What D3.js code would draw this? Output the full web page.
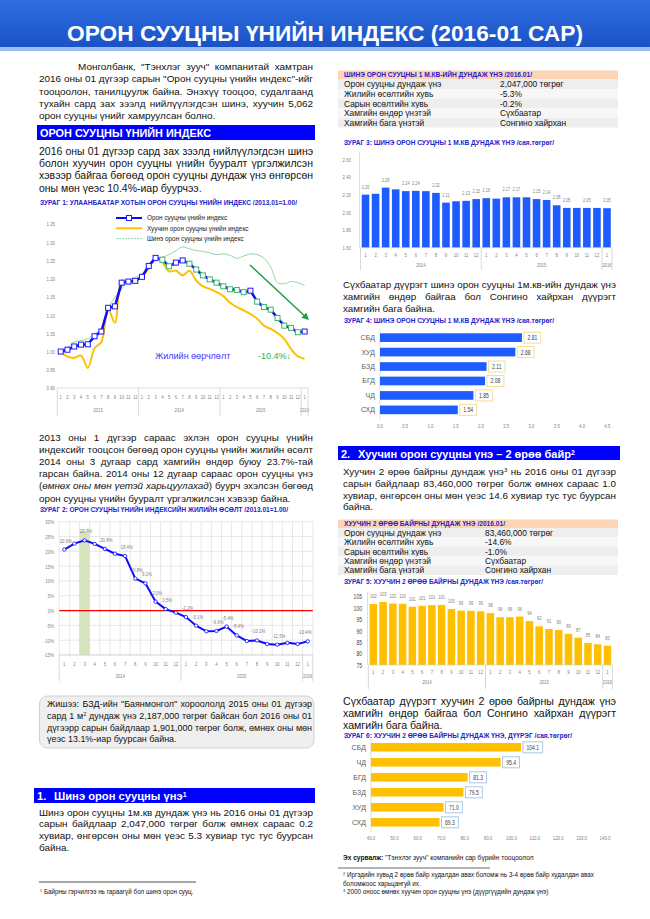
<!DOCTYPE html>
<html><head><meta charset="utf-8">
<script src="https://cdn.jsdelivr.net/npm/d3@7"></script>
<style>body{margin:0;background:#fff}svg{display:block}</style>
</head><body>
<svg id="page" width="650" height="919"></svg>
<script>
// ---------------- DATA ----------------
const monthLabels = ["1","2","3","4","5","6","7","8","9","10","11","12"];
const years1 = ["2013","2014","2015","2016"];
const years2 = ["2014","2015","2016"];

const seriesNames1 = ["Орон сууцны үнийн индекс","Хуучин орон сууцны үнийн индекс","Шинэ орон сууцны үнийн индекс"];
const indexTotal = [1.000,1.005,1.014,1.019,1.020,1.042,1.055,1.120,1.124,1.189,1.192,1.194,1.205,1.235,1.257,1.252,1.234,1.244,1.250,1.241,1.225,1.209,1.198,1.189,1.179,1.171,1.169,1.163,1.167,1.137,1.122,1.115,1.092,1.071,1.065,1.053,1.055];
const indexOld   = [1.000,0.986,0.983,0.989,0.955,1.009,1.026,1.117,1.079,1.195,1.189,1.192,1.206,1.227,1.257,1.245,1.220,1.222,1.209,1.222,1.195,1.179,1.172,1.163,1.152,1.134,1.122,1.113,1.103,1.090,1.071,1.062,1.051,1.035,1.007,0.987,0.980];
const indexNew   = [1.003,1.012,1.026,1.030,1.035,1.049,1.062,1.117,1.149,1.172,1.195,1.204,1.213,1.241,1.256,1.259,1.266,1.277,1.287,1.282,1.277,1.275,1.271,1.266,1.268,1.264,1.256,1.262,1.268,1.266,1.256,1.232,1.189,1.186,1.192,1.189,1.181];
const ticks1 = [0.90,0.95,1.00,1.05,1.10,1.15,1.20,1.25,1.30,1.35];

const yoyGrowth = [20.6,22.6,23.7,22.5,20.8,19.2,18.4,10.8,9.2,3.0,0.5,-0.7,-2.2,-5.1,-7.0,-6.9,-5.4,-8.4,-10.3,-10.1,-11.3,-11.5,-10.9,-11.3,-10.4];
const yoyLabelled = [0,2,4,6,7,8,9,10,12,13,15,16,17,19,21,24];
const ticks2 = [-15,-10,-5,0,5,10,15,20,25,30];

const newPrice = [2.20,2.21,2.28,2.26,2.24,2.243,2.24,2.22,2.11,2.125,2.13,2.15,2.16,2.155,2.17,2.17,2.17,2.15,2.14,2.08,2.05,2.05,2.05,2.05,2.047];
const newPriceLabelled = [0,2,4,5,7,8,10,11,12,14,15,17,18,19,20,22,24];
const ticks3 = [1.6,1.8,2.0,2.2,2.4,2.6];

const districts4 = ["СБД","ХУД","БЗД","БГД","ЧД","СХД"];
const values4 = [2.81,2.68,2.11,2.08,1.85,1.54];
const ticks4 = [0,0.5,1,1.5,2,2.5,3,3.5,4,4.5];

const oldPrice = [101.8,102.7,102.0,101.9,100.6,101.0,101.3,101.4,99.6,98.9,98.8,98.6,97.8,96.0,96.0,96.3,94.3,92.0,90.8,90.4,88.7,87.0,84.7,84.1,83.46];
const ticks5 = [75,80,85,90,95,100,105];

const districts6 = ["СБД","ЧД","БГД","БЗД","ХУД","СХД"];
const values6 = [104.1,95.4,81.3,79.5,71.0,69.3];
const ticks6 = [40,50,60,70,80,90,100,110,120,130,140];

const tableLabels = ["Орон сууцны дундаж үнэ","Жилийн өсөлтийн хувь","Сарын өсөлтийн хувь","Хамгийн өндөр үнэтэй","Хамгийн бага үнэтэй"];
const table1Values = ["2,047,000 төгрөг","-5.3%","-0.2%","Сүхбаатар","Сонгино хайрхан"];
const table2Values = ["83,460,000 төгрөг","-14.6%","-1.0%","Сүхбаатар","Сонгино хайрхан"];

// ---------------- HELPERS ----------------
const BODY = "Arial, 'Liberation Sans', sans-serif";
const NARROW = "Arial, 'Liberation Sans', sans-serif";
const loc = d3.formatLocale({decimal:".",thousands:",",grouping:[3],currency:["",""],minus:"-"});
const svg = d3.select("#page");
const BLUE = "#1f5cff", GOLD = "#ffc000", TITLE = "#2323cc", GRAY = "#7f7f7f";

function squeeze(sel, f){
  sel.each(function(){ const w=this.getComputedTextLength(); d3.select(this).attr('textLength',w*f).attr('lengthAdjust','spacingAndGlyphs'); });
  return sel;
}
function rich(t, s){
  s.split(/(\^[^\^]*\^|_[^_]*_)/).filter(p=>p.length).forEach(p=>{
    if(p[0]==='^') t.append('tspan').attr('baseline-shift','super').style('font-size','62%').text(p.slice(1,-1));
    else if(p[0]==='_') t.append('tspan').attr('font-style','italic').text(p.slice(1,-1));
    else t.append('tspan').text(p);
  });
}
function para(lines, o){
  const g = svg.append('g').attr('font-family',BODY).attr('fill',o.fill||'#111');
  const ts = lines.map(s=>{ const t=g.append('text').attr('font-size',10).style('white-space','pre'); rich(t,s); return t; });
  let fs = o.fsMax || 10.6;
  lines.forEach((s,i)=>{
    if(i<lines.length-1){
      const avail = o.x1-o.x0-(i===0?(o.indent||0):0);
      fs = Math.min(fs, 10*avail/ts[i].node().getComputedTextLength());
    }
  });
  ts.forEach((t,i)=>{
    const x = o.x0+(i===0?(o.indent||0):0);
    t.attr('font-size',fs).attr('x',x).attr('y',o.y0+i*o.lh+fs*0.36);
    if(i<lines.length-1){
      const w = t.node().getComputedTextLength();
      const n = (lines[i].replace(/[\^_]/g,'').match(/ /g)||[]).length;
      if(n>0) t.attr('word-spacing',(o.x1-x-w)/n);
    }
  });
}
function title(x, yc, w, str){
  svg.append('text').attr('x',x).attr('y',yc+2.3).attr('font-family',BODY).attr('font-weight','bold')
    .attr('font-size',6.6).attr('fill',TITLE).attr('textLength',w).attr('lengthAdjust','spacingAndGlyphs').text(str);
}
function buildCats(years){
  const out=[]; years.forEach((y,k)=>{ const ms = k===years.length-1 ? monthLabels.slice(0,1) : monthLabels; ms.forEach(m=>out.push({y,m})); }); return out;
}
function catAxis(xs, cats, yTop, yMonth, yYear, yBot){
  const g = svg.append('g').attr('font-family',NARROW).attr('font-size',6).attr('fill',GRAY).attr('text-anchor','middle');
  squeeze(g.selectAll('text.m').data(cats).join('text').attr('class','m')
    .attr('x',(d,i)=>xs(i)+xs.bandwidth()/2).attr('y',yMonth+2).text(d=>d.m), 0.7);
  const groups = d3.groups(cats.map((d,i)=>({y:d.y,i})), d=>d.y);
  groups.forEach(([yr,arr])=>{
    const a = xs(arr[0].i), b = xs(arr[arr.length-1].i)+xs.bandwidth();
    squeeze(g.append('text').attr('x',(a+b)/2).attr('y',yYear+2).text(yr), 0.7);
    g.append('line').attr('x1',a).attr('x2',a).attr('y1',yTop).attr('y2',yBot).attr('stroke','#c8c8c8').attr('stroke-width',0.7);
  });
  const r = xs.range()[1];
  g.append('line').attr('x1',r).attr('x2',r).attr('y1',yTop).attr('y2',yBot).attr('stroke','#c8c8c8').attr('stroke-width',0.7);
  g.append('line').attr('x1',xs.range()[0]).attr('x2',r).attr('y1',yTop).attr('y2',yTop).attr('stroke','#d0d0d0').attr('stroke-width',0.7);
}
function yLabels(ys, ticks, xRight, fmt, opts={}){
  const g = svg.append('g').attr('transform',`translate(${xRight},0)`)
    .call(d3.axisLeft(ys).tickValues(ticks).tickSize(0).tickPadding(0).tickFormat(fmt));
  g.select('.domain').remove();
  squeeze(g.selectAll('text').attr('font-family',NARROW).attr('font-size',opts.fs||6).attr('fill',opts.fill||GRAY), 0.72);
}

// ---------------- HEADER ----------------
const defs = svg.append('defs');
const gr = defs.append('linearGradient').attr('id','hdr').attr('x1',0).attr('y1',0).attr('x2',0).attr('y2',1);
gr.append('stop').attr('offset','0%').attr('stop-color','#2f6fe2');
gr.append('stop').attr('offset','100%').attr('stop-color','#1a52c6');
svg.append('rect').attr('x',0).attr('y',0).attr('width',650).attr('height',47).attr('fill','url(#hdr)');
svg.append('rect').attr('x',0).attr('y',47).attr('width',650).attr('height',4).attr('fill','#9dbcf0');
svg.append('text').attr('x',67).attr('y',41).attr('font-family',BODY).attr('font-weight','bold').attr('font-size',22)
  .attr('fill','#fff').attr('textLength',516).attr('lengthAdjust','spacingAndGlyphs').text("ОРОН СУУЦНЫ ҮНИЙН ИНДЕКС (2016-01 САР)");

// ---------------- LEFT COLUMN TEXT ----------------
para(["Монголбанк, \"Тэнхлэг зууч\" компанитай хамтран",
      "2016 оны 01 дүгээр сарын \"Орон сууцны үнийн индекс\"-ийг",
      "тооцоолон, танилцуулж байна. Энэхүү тооцоо, судалгаанд",
      "тухайн сард зах зээлд нийлүүлэгдсэн шинэ, хуучин 5,062",
      "орон сууцны үнийг хамруулсан болно."],
     {x0:39,x1:313,indent:39,y0:66.5,lh:12.3});

svg.append('rect').attr('x',37).attr('y',125).attr('width',278).attr('height',15).attr('fill','#0000ff');
svg.append('text').attr('x',40).attr('y',137).attr('font-family',BODY).attr('font-weight','bold').attr('font-size',11.5)
  .attr('fill','#fff').attr('textLength',171).attr('lengthAdjust','spacingAndGlyphs').text("ОРОН СУУЦНЫ ҮНИЙН ИНДЕКС");

para(["2016 оны 01 дүгээр сард зах зээлд нийлүүлэгдсэн шинэ",
      "болон хуучин орон сууцны үнийн бууралт үргэлжилсэн",
      "хэвээр байгаа бөгөөд орон сууцны дундаж үнэ өнгөрсөн",
      "оны мөн үеэс 10.4%-иар буурчээ."],
     {x0:39,x1:313,y0:151,lh:12.3});

// ---------------- CHART 1 ----------------
title(40,202.5,257,"ЗУРАГ 1: УЛААНБААТАР ХОТЫН ОРОН СУУЦНЫ ҮНИЙН ИНДЕКС /2013.01=1.00/");
const cats1 = buildCats(years1);
const x1 = d3.scaleBand().domain(d3.range(cats1.length)).range([57.3,308]);
const y1 = d3.scaleLinear().domain([0.90,1.35]).range([388,224]);
const c1 = i => x1(i)+x1.bandwidth()/2;
yLabels(y1, ticks1, 55, loc.format(".2f"));
catAxis(x1, cats1, 388, 397, 410, 416);
const smooth = d3.line().x((d,i)=>c1(i)).y(d=>y1(d)).curve(d3.curveCatmullRom.alpha(0.5));
const straight = d3.line().x((d,i)=>c1(i)).y(d=>y1(d));
svg.append('path').attr('d',smooth(indexNew)).attr('fill','none').attr('stroke','#92d7a6').attr('stroke-width',1);
svg.append('path').attr('d',smooth(indexOld)).attr('fill','none').attr('stroke','#ffc000').attr('stroke-width',2);
svg.append('path').attr('d',straight(indexTotal)).attr('fill','none').attr('stroke','#0a0aff').attr('stroke-width',2.5);
svg.append('g').selectAll('rect').data(indexTotal).join('rect')
  .attr('x',(d,i)=>c1(i)-2.5).attr('y',d=>y1(d)-2.5).attr('width',5).attr('height',5)
  .attr('fill','#fff').attr('stroke',(d,i)=> i===0 || d>=indexTotal[i-1] ? '#1a1aff' : '#3cb46a').attr('stroke-width',1);
// legend
const legCol = ['#0a0aff','#ffc000','#92d7a6'], legW=[2,2,1];
seriesNames1.forEach((n,k)=>{
  const y = 218+k*10.3;
  svg.append('line').attr('x1',116).attr('x2',142).attr('y1',y).attr('y2',y).attr('stroke',legCol[k]).attr('stroke-width',legW[k])
    .attr('stroke-dasharray',k===2?'2,1':null);
  if(k===0) svg.append('rect').attr('x',126.5).attr('y',y-2.5).attr('width',5).attr('height',5).attr('fill','#fff').attr('stroke','#1a1aff');
  svg.append('text').attr('x',147).attr('y',y+2.2).attr('font-family',BODY).attr('font-size',6.4).attr('fill','#222').text(n);
});
// arrow
const ax0=250, ay0=265, ax1=309, ay1=320;
svg.append('line').attr('x1',ax0).attr('y1',ay0).attr('x2',ax1-4).attr('y2',ay1-3.7).attr('stroke','#1f9e40').attr('stroke-width',1.5);
(function(){ const ang=Math.atan2(ay1-ay0,ax1-ax0), L=7, W=3.5;
  const bx=ax1-L*Math.cos(ang), by=ay1-L*Math.sin(ang);
  const p=[[ax1,ay1],[bx+W*Math.sin(ang),by-W*Math.cos(ang)],[bx-W*Math.sin(ang),by+W*Math.cos(ang)]];
  svg.append('polygon').attr('points',p.map(q=>q.join(',')).join(' ')).attr('fill','#1f9e40'); })();
svg.append('text').attr('x',155).attr('y',359.3).attr('font-family',BODY).attr('font-size',9).attr('fill','#3b3bff').text("Жилийн өөрчлөлт");
svg.append('text').attr('x',258).attr('y',359.3).attr('font-family',BODY).attr('font-size',9).attr('fill','#2bb24c').text("-10.4%↓");

// ---------------- PARA 3 ----------------
para(["2013 оны 1 дүгээр сараас эхлэн орон сууцны үнийн",
      "индексийг тооцсон бөгөөд орон сууцны үнийн жилийн өсөлт",
      "2014 оны 3 дугаар сард хамгийн өндөр буюу 23.7%-тай",
      "гарсан байна. 2014 оны 12 дугаар сараас орон сууцны үнэ",
      "(_өмнөх оны мөн үетэй харьцуулахад_) буурч эхэлсэн бөгөөд",
      "орон сууцны үнийн бууралт үргэлжилсэн хэвээр байна."],
     {x0:39,x1:313,y0:437,lh:12.2});

// ---------------- CHART 2 ----------------
title(40,510,248,"ЗУРАГ 2: ОРОН СУУЦНЫ ҮНИЙН ИНДЕКСИЙН ЖИЛИЙН ӨСӨЛТ /2013.01=1.00/");
const cats2 = buildCats(years2);
const x2 = d3.scaleBand().domain(d3.range(cats2.length)).range([59.2,312.8]);
const y2 = d3.scaleLinear().domain([-15,30]).range([655,521.7]);
const c2 = i => x2(i)+x2.bandwidth()/2;
const peak = yoyGrowth.indexOf(d3.max(yoyGrowth));
svg.append('rect').attr('x',x2(peak)).attr('y',y2(27)).attr('width',x2.bandwidth()).attr('height',y2(-15)-y2(27)).attr('fill','#d7e4bd');
const gg = svg.append('g').attr('stroke','#d9d9d9').attr('stroke-width',0.6);
gg.selectAll('line.h').data(ticks2).join('line').attr('class','h').attr('x1',59.2).attr('x2',312.8).attr('y1',d=>y2(d)).attr('y2',d=>y2(d));
gg.selectAll('line.v').data(d3.range(cats2.length+1)).join('line').attr('class','v')
  .attr('x1',i=>59.2+i*x2.step()).attr('x2',i=>59.2+i*x2.step()).attr('y1',y2(30)).attr('y2',y2(-15));
svg.append('line').attr('x1',59.2).attr('x2',312.8).attr('y1',y2(0)).attr('y2',y2(0)).attr('stroke','#ff0000').attr('stroke-width',1.3);
yLabels(y2, ticks2, 54, d=>loc.format("d")(d)+"%");
catAxis(x2, cats2, 655, 664, 676, 681);
svg.append('path').attr('d',d3.line().x((d,i)=>c2(i)).y(d=>y2(d))(yoyGrowth)).attr('fill','none').attr('stroke','#0a0aff').attr('stroke-width',2);
svg.append('g').selectAll('circle').data(yoyGrowth).join('circle').attr('cx',(d,i)=>c2(i)).attr('cy',d=>y2(d)).attr('r',1.7)
  .attr('fill','#fff').attr('stroke','#0a0aff').attr('stroke-width',0.8);
squeeze(svg.append('g').attr('font-family',NARROW).attr('font-size',6).attr('fill',GRAY).attr('text-anchor','middle')
  .selectAll('text').data(yoyLabelled).join('text').attr('x',i=>c2(i)+(i===yoyGrowth.length-1?-3:1.5)).attr('y',i=>y2(yoyGrowth[i])-7)
  .text(i=>loc.format(".1f")(yoyGrowth[i])+"%"), 0.72);

// ---------------- EXAMPLE BOX ----------------
svg.append('rect').attr('x',39.5).attr('y',696).attr('width',274.5).attr('height',52).attr('rx',8).attr('fill','#efefef').attr('stroke','#d2d2d2');
para(["Жишээ: БЗД-ийн \"Баянмонгол\" хороололд 2015 оны 01 дүгээр",
      "сард 1 м^2^ дундаж үнэ 2,187,000 төгрөг байсан бол 2016 оны 01",
      "дүгээрр сарын байдлаар 1,901,000 төгрөг болж, өмнөх оны мөн",
      "үеэс 13.1%-иар буурсан байна."],
     {x0:47,x1:312,y0:704,lh:11.7,fsMax:10});

// ---------------- SECTION 1 ----------------
svg.append('rect').attr('x',34).attr('y',788).attr('width',281).attr('height',15).attr('fill','#0000ff');
(function(){
  svg.append('text').attr('x',37).attr('y',800).attr('font-family',BODY).attr('font-weight','bold').attr('font-size',11.2).attr('fill','#fff').text("1.");
  const t2 = svg.append('text').attr('x',54).attr('y',800).attr('font-family',BODY).attr('font-weight','bold').attr('font-size',11.2).attr('fill','#fff');
  rich(t2,"Шинэ орон сууцны үнэ^1^");
})();
para(["Шинэ орон сууцны 1м.кв дундаж үнэ нь 2016 оны 01 дүгээр",
      "сарын байдлаар 2,047,000 төгрөг болж өмнөх сараас 0.2",
      "хувиар, өнгөрсөн оны мөн үеэс 5.3 хувиар тус тус буурсан",
      "байна."],
     {x0:39,x1:313,y0:812,lh:11.8});
svg.append('line').attr('x1',39).attr('x2',196).attr('y1',882).attr('y2',882).attr('stroke','#000').attr('stroke-width',0.7);
(function(){ const t=svg.append('text').attr('x',40).attr('y',894).attr('font-family',BODY).attr('font-size',6.3).attr('fill','#111');
  rich(t,"^1^ Байрны гэрчилгээ нь гараагүй бол шинэ орон сууц."); })();

// ---------------- TABLES ----------------
function table(yTop, hh, rh, header, hw, values, col2x){
  svg.append('rect').attr('x',338).attr('y',yTop).attr('width',280).attr('height',hh).attr('fill','#fbd5b5');
  title(344, yTop+hh/2, hw, header);
  tableLabels.forEach((l,i)=>{
    const y = yTop+hh+i*rh;
    svg.append('rect').attr('x',338).attr('y',y).attr('width',280).attr('height',rh).attr('fill',i%2?'#f7f7f7':'#eeeeee');
    svg.append('text').attr('x',344).attr('y',y+rh/2+3).attr('font-family',BODY).attr('font-size',8.4).attr('fill','#111').text(l);
    svg.append('text').attr('x',col2x).attr('y',y+rh/2+3).attr('font-family',BODY).attr('font-size',8.4).attr('fill','#111').text(values[i]);
  });
}
table(70.5, 9, 9.6, "ШИНЭ ОРОН СУУЦНЫ 1 М.КВ-ИЙН ДУНДАЖ ҮНЭ /2016.01/", 188, table1Values, 500);

// ---------------- CHART 3 ----------------
title(344,143,210,"ЗУРАГ 3: ШИНЭ ОРОН СУУЦНЫ 1 М.КВ ДУНДАЖ ҮНЭ /сая.төгрөг/");
const cats3 = buildCats(years2);
const xs3 = d3.scaleBand().domain(d3.range(cats3.length)).range([360.5,612]);
const x3 = d3.scaleBand().domain(d3.range(cats3.length)).range([360.5,612]).paddingInner(0.245).paddingOuter(0.12);
const y3 = d3.scaleLinear().domain([1.6,2.6]).range([247.7,159.3]);
svg.append('line').attr('x1',359.5).attr('x2',359.5).attr('y1',152).attr('y2',247.7).attr('stroke','#d0d0d0').attr('stroke-width',0.7);
yLabels(y3, ticks3, 351, loc.format(".2f"));
svg.append('g').selectAll('rect').data(newPrice).join('rect').attr('x',(d,i)=>x3(i)).attr('width',x3.bandwidth())
  .attr('y',d=>y3(d)).attr('height',d=>y3(1.6)-y3(d)).attr('fill',BLUE);
squeeze(svg.append('g').attr('font-family',NARROW).attr('font-size',5.6).attr('fill',GRAY).attr('text-anchor','middle')
  .selectAll('text').data(newPriceLabelled).join('text').attr('x',i=>x3(i)+x3.bandwidth()/2).attr('y',i=>y3(newPrice[i])-6)
  .text(i=>loc.format(".2f")(newPrice[i])), 0.7);
catAxis(xs3, cats3, 247.7, 255, 265, 270);

para(["Сүхбаатар дүүрэгт шинэ орон сууцны 1м.кв-ийн дундаж үнэ",
      "хамгийн өндөр байгаа бол Сонгино хайрхан дүүрэгт",
      "хамгийн бага байна."],
     {x0:343,x1:616,y0:284,lh:12.3});

// ---------------- HORIZONTAL BARS ----------------
function hbar(titleArgs, cats, vals, xDom, xRange, yRange, ticks, color, boxStroke, catX, tickY, yPad){
  title(...titleArgs);
  const x = d3.scaleLinear().domain(xDom).range(xRange);
  const y = d3.scaleBand().domain(cats).range(yRange).paddingInner(yPad).paddingOuter(yPad/2);
  svg.append('line').attr('x1',x(xDom[0])).attr('x2',x(xDom[0])).attr('y1',yRange[0]-2).attr('y2',yRange[1]+2).attr('stroke','#d0d0d0').attr('stroke-width',0.7);
  svg.append('g').selectAll('rect').data(vals).join('rect').attr('x',x(xDom[0])).attr('y',(d,i)=>y(cats[i]))
    .attr('width',d=>x(d)-x(xDom[0])).attr('height',y.bandwidth()).attr('fill',color);
  svg.append('g').attr('font-family',BODY).attr('font-size',7).attr('fill','#595959').attr('text-anchor','end')
    .selectAll('text').data(cats).join('text').attr('x',catX).attr('y',d=>y(d)+y.bandwidth()/2+2.5).text(d=>d);
  squeeze(svg.append('g').attr('font-family',NARROW).attr('font-size',6).attr('fill',GRAY).attr('text-anchor','middle')
    .selectAll('text').data(ticks).join('text').attr('x',d=>x(d)).attr('y',tickY+2).text(d=>loc.format(".1f")(d)), 0.72);
  vals.forEach((v,i)=>{
    const cy = y(cats[i])+y.bandwidth()/2;
    const t = svg.append('text').attr('font-family',NARROW).attr('font-size',7).attr('fill','#404040').attr('text-anchor','middle')
      .text(loc.format(xDom[1]>10?".1f":".2f")(v));
    const tw = t.node().getComputedTextLength()*0.72;
    t.attr('textLength',tw).attr('lengthAdjust','spacingAndGlyphs');
    const w = tw+7;
    const bx = x(v)+2;
    svg.insert('rect', () => t.node()).attr('x',bx).attr('y',cy-5.5).attr('width',w).attr('height',11).attr('fill','#fff').attr('stroke',boxStroke).attr('stroke-width',1);
    t.attr('x',bx+w/2).attr('y',cy+2.5);
  });
}
hbar([344,321,210,"ЗУРАГ 4: ШИНЭ ОРОН СУУЦНЫ 1 М.КВ ДУНДАЖ ҮНЭ /сая.төгрөг/"], districts4, values4, [0,4.5], [380,607.3], [330.4,417.1], ticks4, BLUE, '#f3df93', 375, 426, 0.4);

// ---------------- SECTION 2 ----------------
svg.append('rect').attr('x',338).attr('y',446).attr('width',282).attr('height',14).attr('fill','#0000ff');
(function(){
  svg.append('text').attr('x',341).attr('y',457.5).attr('font-family',BODY).attr('font-weight','bold').attr('font-size',11).attr('fill','#fff').text("2.");
  const t2 = svg.append('text').attr('x',358).attr('y',457.5).attr('font-family',BODY).attr('font-weight','bold').attr('font-size',11).attr('fill','#fff');
  rich(t2,"Хуучин орон сууцны үнэ – 2 өрөө байр^2^");
})();
para(["Хуучин 2 өрөө байрны дундаж үнэ^3^ нь 2016 оны 01 дүгээр",
      "сарын байдлаар 83,460,000 төгрөг болж өмнөх сараас 1.0",
      "хувиар, өнгөрсөн оны мөн үеэс 14.6 хувиар тус тус буурсан",
      "байна."],
     {x0:343,x1:616,y0:471.5,lh:11.8});
table(519.5, 8.5, 9.4, "ХУУЧИН 2 ӨРӨӨ БАЙРНЫ ДУНДАЖ ҮНЭ /2016.01/", 161, table2Values, 485);

// ---------------- CHART 5 ----------------
title(344,581.5,199,"ЗУРАГ 5: ХУУЧИН 2 ӨРӨӨ БАЙРНЫ ДУНДАЖ ҮНЭ /сая.төгрөг/");
const cats5 = buildCats(years2);
const xs5 = d3.scaleBand().domain(d3.range(cats5.length)).range([368.4,612.4]);
const x5 = d3.scaleBand().domain(d3.range(cats5.length)).range([368.4,612.4]).paddingInner(0.23).paddingOuter(0.12);
const y5 = d3.scaleLinear().domain([75,105]).range([665,596.7]);
svg.append('line').attr('x1',367.5).attr('x2',367.5).attr('y1',592).attr('y2',665).attr('stroke','#d0d0d0').attr('stroke-width',0.7);
yLabels(y5, ticks5, 362, loc.format("d"), {fs:7,fill:'#404040'});
svg.append('g').selectAll('rect').data(oldPrice).join('rect').attr('x',(d,i)=>x5(i)).attr('width',x5.bandwidth())
  .attr('y',d=>y5(d)).attr('height',d=>y5(75)-y5(d)).attr('fill',GOLD);
squeeze(svg.append('g').attr('font-family',NARROW).attr('font-size',5.8).attr('fill',GRAY).attr('text-anchor','middle')
  .selectAll('text').data(oldPrice).join('text').attr('x',(d,i)=>x5(i)+x5.bandwidth()/2).attr('y',d=>y5(d)-6)
  .text(d=>loc.format(".0f")(d)), 0.7);
catAxis(xs5, cats5, 665, 672.3, 682.3, 689);

para(["Сүхбаатар дүүрэгт хуучин 2 өрөө байрны дундаж үнэ",
      "хамгийн өндөр байгаа бол Сонгино хайрхан дүүрэгт",
      "хамгийн бага байна."],
     {x0:343,x1:616,y0:701,lh:12.2});

// ---------------- CHART 6 ----------------
hbar([344,735.5,228,"ЗУРАГ 6: ХУУЧИН 2 ӨРӨӨ БАЙРНЫ ДУНДАЖ ҮНЭ, ДҮҮРЭГ /сая.төгрөг/"], districts6, values6, [40,140], [371,605], [739.8,829.8], ticks6, GOLD, '#a9c8ec', 366, 838, 0.43);

// ---------------- SOURCE & FOOTNOTES ----------------
(function(){
  const t = svg.append('text').attr('x',343).attr('y',860).attr('font-family',BODY).attr('font-size',6.6).attr('fill','#111');
  t.append('tspan').attr('font-weight','bold').text("Эх сурвалж:");
  t.append('tspan').text(" \"Тэнхлэг зууч\" компанийн сар бүрийн тооцоолол");
  svg.append('line').attr('x1',338).attr('x2',490).attr('y1',868).attr('y2',868).attr('stroke','#000').attr('stroke-width',0.6);
  const fl = ["^2^ Иргэдийн хувьд 2 өрөө байр худалдан авах боломж нь 3-4 өрөө байр худалдан авах",
              "боломжоос харьцангуй их.",
              "^3^ 2000 оноос өмнөх хуучин орон сууцны үнэ (дүүргүүдийн дундаж үнэ)"];
  fl.forEach((s,i)=>{ const tt = svg.append('text').attr('x',343).attr('y',877+i*8.6).attr('font-family',BODY).attr('font-size',6.3).attr('fill','#111').style('white-space','pre'); rich(tt,s); });
})();
</script>
</body></html>
